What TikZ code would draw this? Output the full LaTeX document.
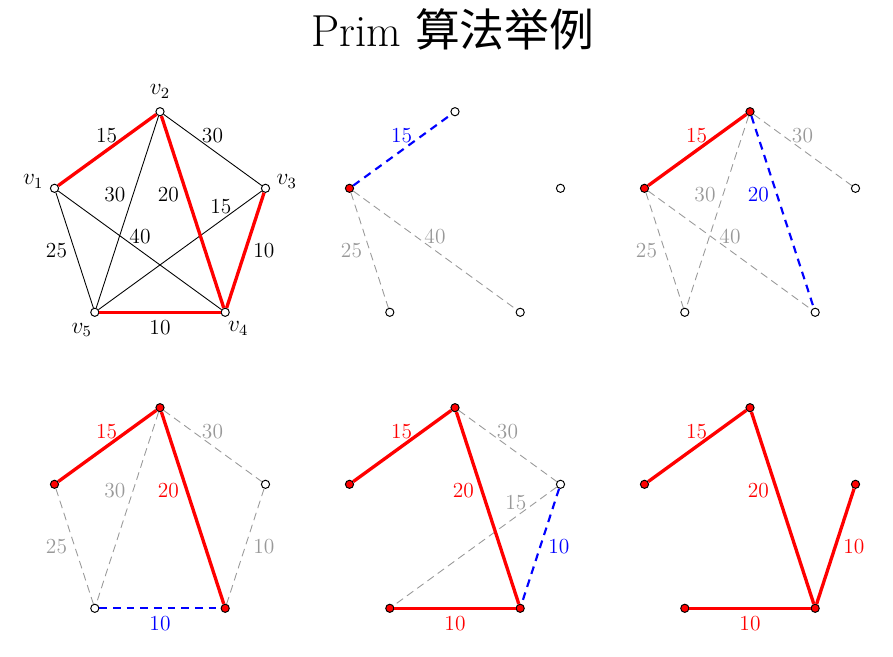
\documentclass[tikz,border=0pt]{standalone}
\usepackage{fontspec}
\newfontfamily\cjk{Noto Sans CJK SC}
\begin{document}
\begin{tikzpicture}[x=0.513pt,y=-0.513pt,
  vw/.style={circle,draw=black,fill=white,line width=0.5pt,minimum size=4.2pt,inner sep=0pt},
  vr/.style={vw,fill=red},
  blk/.style={line width=0.45pt,black},
  redE/.style={line width=1.7pt,red},
  blueE/.style={line width=1.1pt,blue,dash pattern=on 4pt off 3pt},
  grayE/.style={line width=0.45pt,black!40,dash pattern=on 4pt off 2.5pt},
  lbl/.style={inner sep=1pt,font=\fontsize{11}{13}\selectfont},
  vl/.style={font=\large},
  lg/.style={lbl,text=black!40},
  lr/.style={lbl,text=red},
  lb/.style={lbl,text=blue}]
\useasboundingbox (0,0) rectangle (893,657);
\newcommand\pverts[6]{%
  \node[#2] (#1a) at (54.5,188.3) {};
  \node[#3] (#1b) at (160,111.7) {};
  \node[#4] (#1c) at (265.5,188.3) {};
  \node[#5] (#1d) at (225.2,312.3) {};
  \node[#6] (#1e) at (94.8,312.3) {};}
\node[anchor=base,font=\fontsize{23}{28}\selectfont] (title) at (453,47) {Prim \cjk 算法举例};
% Panel 1
\begin{scope}
  \pverts{p}{vw}{vw}{vw}{vw}{vw}
  \draw[blk] (pb) -- (pc);
  \draw[blk] (pb) -- (pe);
  \draw[blk] (pc) -- (pe);
  \draw[blk] (pa) -- (pd);
  \draw[blk] (pa) -- (pe);
  \draw[redE] (pa) -- (pb);
  \draw[redE] (pb) -- (pd);
  \draw[redE] (pc) -- (pd);
  \draw[redE] (pe) -- (pd);
  \node[lbl] (pl1) at (106.7,136) {15};
  \node[lbl] (pl2) at (212.5,136) {30};
  \node[lbl] (pl3) at (115,194.3) {30};
  \node[lbl] (pl4) at (168.3,194.3) {20};
  \node[lbl] (pl5) at (220.8,206.5) {15};
  \node[lbl] (pl6) at (140,236.7) {40};
  \node[lbl] (pl7) at (56.5,250.7) {25};
  \node[lbl] (pl8) at (263.8,250.7) {10};
  \node[lbl] (pl9) at (160,327.3) {10};
  \node[vl] (n1) at (33.3,181.7) {$v_1$};
  \node[vl] (n2) at (160,91.7) {$v_2$};
  \node[vl] (n3) at (286.7,181.7) {$v_3$};
  \node[vl] (n4) at (238.3,328.3) {$v_4$};
  \node[vl] (n5) at (81.7,330) {$v_5$};
\end{scope}
% Panel 2
\begin{scope}[shift={(295,0)}]
  \pverts{q}{vr}{vw}{vw}{vw}{vw}
  \draw[grayE] (qa) -- (qe);
  \draw[grayE] (qa) -- (qd);
  \draw[blueE] (qa) -- (qb);
  \node[lb] (ql1) at (106.7,136) {15};
  \node[lg] (ql6) at (140,236.7) {40};
  \node[lg] (ql7) at (56.5,250.7) {25};
\end{scope}
% Panel 3
\begin{scope}[shift={(590,0)}]
  \pverts{r}{vr}{vr}{vw}{vw}{vw}
  \draw[grayE] (rb) -- (rc);
  \draw[grayE] (rb) -- (re);
  \draw[grayE] (ra) -- (re);
  \draw[grayE] (ra) -- (rd);
  \draw[redE] (ra) -- (rb);
  \draw[blueE] (rb) -- (rd);
  \node[lr] (rl1) at (106.7,136) {15};
  \node[lg] (rl2) at (212.5,136) {30};
  \node[lg] (rl3) at (115,194.3) {30};
  \node[lb] (rl4) at (168.3,194.3) {20};
  \node[lg] (rl6) at (140,236.7) {40};
  \node[lg] (rl7) at (56.5,250.7) {25};
\end{scope}
% Panel 4
\begin{scope}[shift={(0,296)}]
  \pverts{s}{vr}{vr}{vw}{vr}{vw}
  \draw[grayE] (sb) -- (sc);
  \draw[grayE] (sb) -- (se);
  \draw[grayE] (sa) -- (se);
  \draw[grayE] (sc) -- (sd);
  \draw[redE] (sa) -- (sb);
  \draw[redE] (sb) -- (sd);
  \draw[blueE] (se) -- (sd);
  \node[lr] (sl1) at (106.7,136) {15};
  \node[lg] (sl2) at (212.5,136) {30};
  \node[lg] (sl3) at (115,194.3) {30};
  \node[lr] (sl4) at (168.3,194.3) {20};
  \node[lg] (sl7) at (56.5,250.7) {25};
  \node[lg] (sl8) at (263.8,250.7) {10};
  \node[lb] (sl9) at (160,327.3) {10};
\end{scope}
% Panel 5
\begin{scope}[shift={(295,296)}]
  \pverts{t}{vr}{vr}{vw}{vr}{vr}
  \draw[grayE] (tb) -- (tc);
  \draw[grayE] (tc) -- (te);
  \draw[redE] (ta) -- (tb);
  \draw[redE] (tb) -- (td);
  \draw[redE] (te) -- (td);
  \draw[blueE] (tc) -- (td);
  \node[lr] (tl1) at (106.7,136) {15};
  \node[lg] (tl2) at (212.5,136) {30};
  \node[lr] (tl4) at (168.3,194.3) {20};
  \node[lg] (tl5) at (220.8,206.5) {15};
  \node[lb] (tl8) at (263.8,250.7) {10};
  \node[lr] (tl9) at (160,327.3) {10};
\end{scope}
% Panel 6
\begin{scope}[shift={(590,296)}]
  \pverts{u}{vr}{vr}{vr}{vr}{vr}
  \draw[redE] (ua) -- (ub);
  \draw[redE] (ub) -- (ud);
  \draw[redE] (ue) -- (ud);
  \draw[redE] (uc) -- (ud);
  \node[lr] (ul1) at (106.7,136) {15};
  \node[lr] (ul4) at (168.3,194.3) {20};
  \node[lr] (ul8) at (263.8,250.7) {10};
  \node[lr] (ul9) at (160,327.3) {10};
\end{scope}
\end{tikzpicture}
\end{document}
